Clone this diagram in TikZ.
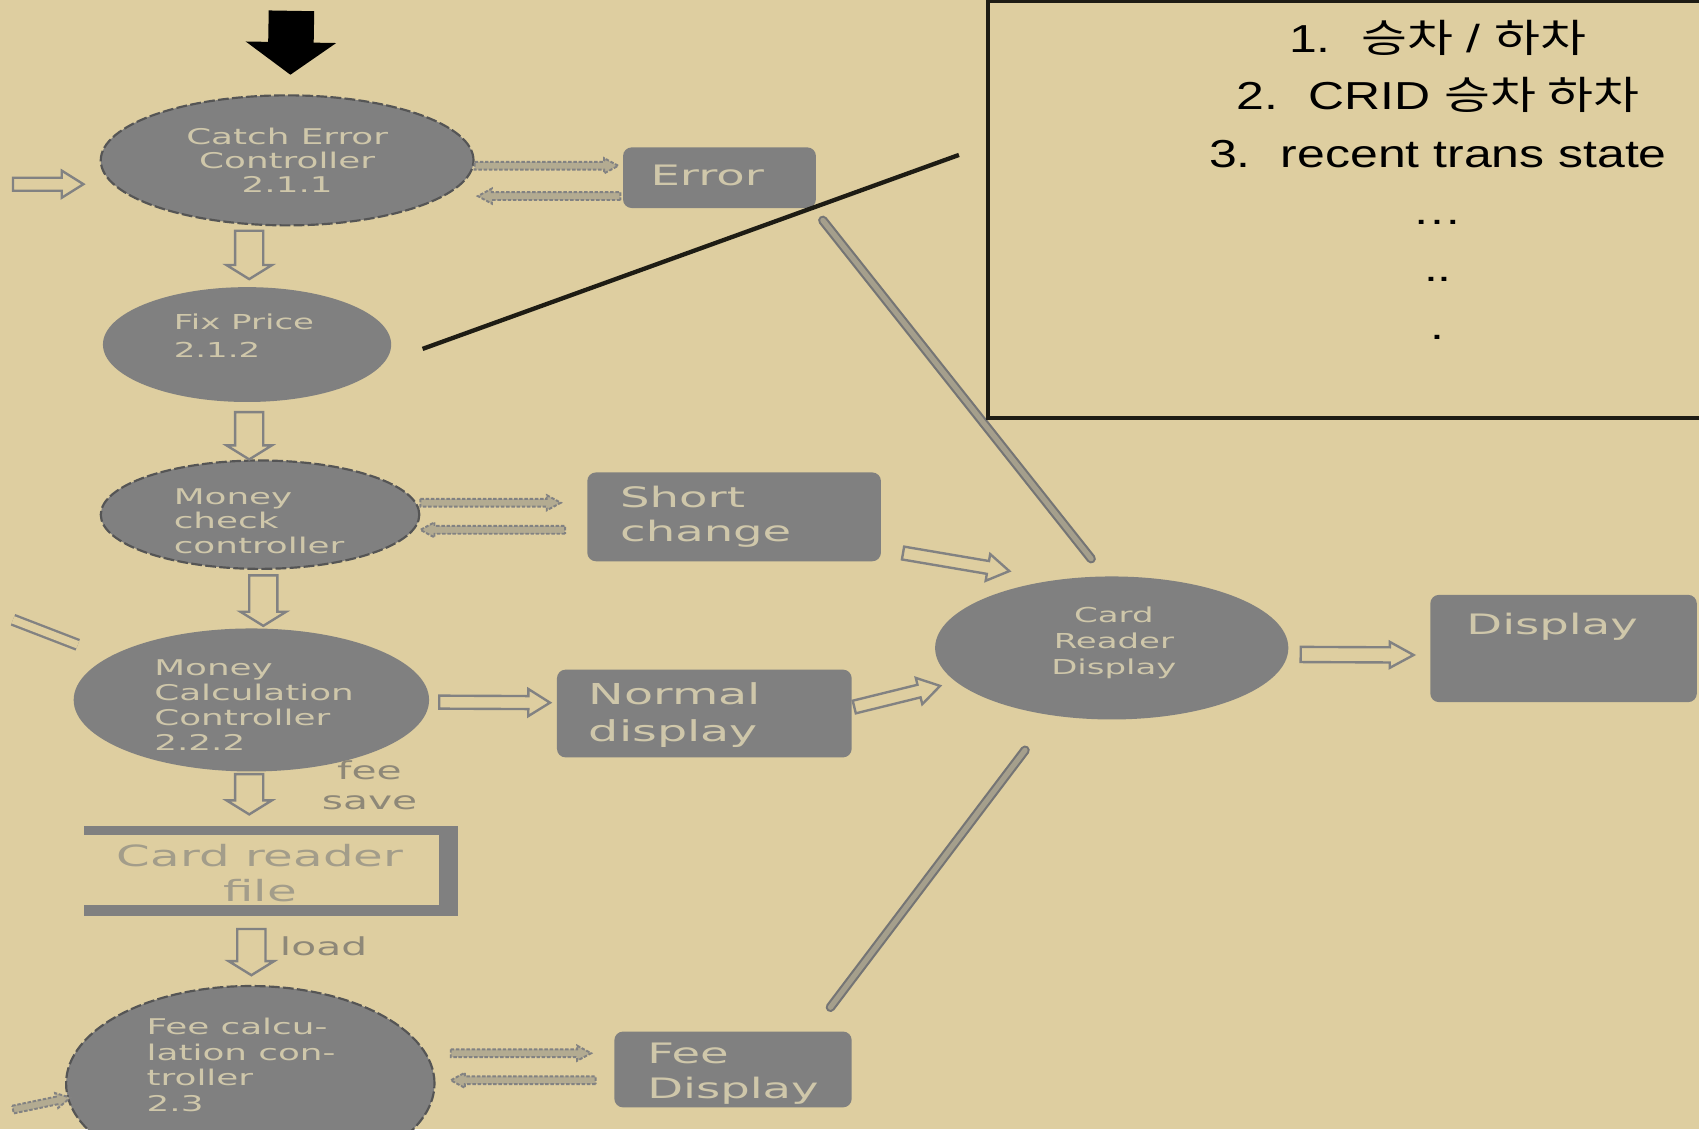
\documentclass[tikz,border=0pt]{standalone}
\usepackage{fontspec}
\setmainfont{DejaVu Sans}
\newfontfamily\labfont[FakeStretch=1.65]{DejaVu Sans}
\newfontfamily\notefont[FakeStretch=1.28]{Liberation Sans}
\newfontfamily\krfont[FakeStretch=1.28]{Noto Sans CJK KR}
\usetikzlibrary{arrows.meta,shapes.geometric,calc}
\definecolor{bg}{HTML}{DECEA0}
\definecolor{shapegray}{HTML}{808080}
\definecolor{labtext}{HTML}{CFC7AA}
\definecolor{linegray}{HTML}{828282}
\definecolor{outlinegray}{HTML}{555555}
\definecolor{softtext}{HTML}{8E8878}
\definecolor{filetext}{HTML}{A39D8A}
\definecolor{inkblack}{HTML}{1E1C14}
\begin{document}
\begin{tikzpicture}[x=0.5pt,y=-0.5pt,
  proc/.style={ellipse, fill=shapegray, inner sep=0pt},
  dproc/.style={proc, draw=outlinegray, line width=1pt, dash pattern=on 5pt off 1.5pt},
  rbox/.style={rectangle, rounded corners=4pt, fill=shapegray, inner sep=0pt},
  lab/.style={text=labtext, inner sep=0pt, align=left, font=\labfont\fontsize{10}{11.5}\selectfont},
  blab/.style={lab, font=\labfont\fontsize{13}{16}\selectfont},
  slab/.style={text=softtext, inner sep=0pt, align=left, font=\labfont\fontsize{11.4}{14}\selectfont},
  notetext/.style={text=black, inner sep=0pt, anchor=base, font=\notefont\fontsize{18}{22}\selectfont},
  barrow/.style n args={3}{draw=linegray, fill=bg, line width=1.1pt, line join=miter,
    to path={let \p1=(\tikztostart), \p2=(\tikztotarget), \n1={atan2(\y2-\y1,\x2-\x1)} in
      ($(\p1)+({\n1+90}:#1)$) -- ($(\p2)+({\n1+180}:#3)+({\n1+90}:#1)$)
      -- ($(\p2)+({\n1+180}:#3)+({\n1+90}:#2)$) -- (\p2)
      -- ($(\p2)+({\n1+180}:#3)+({\n1-90}:#2)$) -- ($(\p2)+({\n1+180}:#3)+({\n1-90}:#1)$)
      -- ($(\p1)+({\n1-90}:#1)$) -- cycle}},
  varrow/.style={barrow={6.5pt}{10.5pt}{6.5pt}},
  harrow/.style={barrow={3pt}{6.25pt}{10pt}},
  darrow/.style={barrow={1.8pt}{3.5pt}{6.5pt}, line width=0.9pt, fill=bg!55!gray, dash pattern=on 1.6pt off 0.8pt},
  hatchbar/.style={draw=linegray!90!black, line width=1pt, double=gray!60!bg, double distance=2.4pt, line cap=round},
  filebar/.style={fill=shapegray},
]
\useasboundingbox (0,0) rectangle (1568,1042);
\clip (0,0) rectangle (1568,1042);
\fill[bg] (0,0) rectangle (1568,1042);

% process ellipses
\node[dproc, minimum width=172pt, minimum height=60pt] (e1) at (265,148) {};
\node[proc, minimum width=133pt, minimum height=53pt] (e2) at (228,318) {};
\node[dproc, minimum width=147pt, minimum height=50pt] (e3) at (240,475) {};
\node[proc, minimum width=164pt, minimum height=66pt] (e4) at (232,646) {};
\node[dproc, minimum width=170pt, minimum height=90pt] (e5) at (231,1000) {};
\node[proc, minimum width=163pt, minimum height=66pt] (crd) at (1026,598) {};

% boxes
\node[rbox, minimum width=89pt, minimum height=28pt] (err) at (664,164) {};
\node[rbox, minimum width=135.5pt, minimum height=41pt] (short) at (677.5,477) {};
\node[rbox, minimum width=136pt, minimum height=40.5pt] (normal) at (650,658.5) {};
\node[rbox, minimum width=109.5pt, minimum height=35pt] (feed) at (676.5,987) {};
\node[rbox, minimum width=123pt, minimum height=49.5pt] (disp) at (1443,598.5) {};

% data store
\node[rectangle, inner sep=0pt, minimum width=172pt, minimum height=41pt] (crf) at (250,804) {};
\fill[filebar] (crf.north west) rectangle ($(crf.north east)+(0,8)$);
\fill[filebar] ($(crf.south west)+(0,-10)$) rectangle (crf.south east);
\fill[filebar] ($(crf.north east)+(-17,0)$) rectangle (crf.south east);

% labels
\node[lab, align=center, font=\labfont\fontsize{10}{11.25}\selectfont] (t1) at (265,148) {Catch Error\\Controller\\2.1.1};
\node[lab, anchor=west, font=\labfont\fontsize{9.5}{13}\selectfont] (t2) at (160,310) {Fix Price\\2.1.2};
\node[lab, anchor=west] (t3) at (160,481) {Money\\check\\controller};
\node[lab, anchor=west] (t4) at (142,651) {Money\\Calculation\\Controller\\2.2.2};
\node[lab, anchor=west, font=\labfont\fontsize{10}{11.8}\selectfont] (t5) at (135,983) {Fee calcu-\\lation con-\\troller\\2.3};
\node[lab, align=center, font=\labfont\fontsize{9.5}{12}\selectfont] (tcrd) at (1028,593) {Card\\Reader\\Display};
\node[blab, anchor=west] (terr) at (600,162) {Error};
\node[blab, anchor=west] (tshort) at (572,477) {Short\\change};
\node[blab, anchor=west, font=\labfont\fontsize{13.3}{17}\selectfont] (tnormal) at (543,660) {Normal\\display};
\node[blab, anchor=west] (tfee) at (597,991) {Fee\\Display};
\node[blab, anchor=west] (tdisp) at (1353,578) {Display};
\node[lab, text=filetext, align=center, font=\labfont\fontsize{13.5}{16}\selectfont] (tfile) at (240,806) {Card reader\\file};
\node[slab, align=center] (tsave) at (341,725) {fee\\save};
\node[slab, anchor=west] (tload) at (258,873) {load};

% black entry arrow
\coordinate (drop) at (269,10);
\draw[black, line width=21pt, -{Triangle[width=41pt,length=15pt]}] (drop) -- ($(e1.north)+(3,-18)$);

% left-edge fragments
\coordinate (in1) at (12,170);
\draw[harrow] (in1) to ($(e1.west)+(-15,22)$);
\coordinate (in2) at (12,572);
\draw[draw=linegray, line width=1.1pt, double=bg, double distance=3.5pt] (in2) -- ($(e4.north west)+(-44,-4)$);
\coordinate (in3) at (12,1024);
\draw[darrow] (in3) to ($(e5.west)+(5,13)$);

% vertical flow
\draw[varrow] ($(e1.south)+(-35,4)$) to ($(e1.south |- e2.north)+(-35,-7)$);
\draw[varrow] ($(e2.south)+(2,9)$) to ($(e2.south |- e3.north)+(2,0)$);
\draw[varrow] ($(e3.south)+(3,5)$) to ($(e3.south |- e4.north)+(3,-2)$);
\draw[varrow] ($(e4.south)+(-2,2)$) to ($(e4.south |- crf.north)+(-2,-11)$);
\draw[varrow] ($(crf.south)+(-18,12)$) to ($(crf.south |- e5.north)+(-18,-9)$);

% side flows
\draw[darrow] ($(e1.east)+(0,5)$) to ($(err.west)+(-4,-11)$);
\draw[darrow] ($(err.west)+(-2,17)$) to ($(e1.east)+(3,33)$);
\draw[darrow] ($(e3.east)+(0,-11)$) to ($(short.west)+(-24,-13)$);
\draw[darrow] ($(short.west)+(-20,12)$) to ($(e3.east)+(0,14)$);
\draw[harrow] ($(e4.east)+(9,2)$) to ($(normal.west)+(-6,-10)$);
\draw[darrow] ($(e5.east)+(14,-28)$) to ($(feed.west)+(-21,-15)$);
\draw[darrow] ($(feed.west)+(-17,10)$) to ($(e5.east)+(14,-3)$);

% into card reader display
\draw[harrow] ($(short.south east)+(20,-8)$) to ($(crd.north west)+(21,-24)$);
\draw[harrow] ($(normal.east)+(2,-6)$) to ($(crd.west)+(5,35)$);
\draw[hatchbar] ($(err.south east)+(6,11)$) -- ($(crd.north)+(-19,-16)$);
\draw[hatchbar] ($(feed.north east)+(-20,-22)$) -- ($(crd.south)+(-80,28)$);
\draw[barrow={3.5pt}{6pt}{11pt}] ($(crd.east)+(11,6)$) to ($(disp.west)+(-15,6)$);

% note
\node[draw=inkblack, line width=1.8pt, rectangle, inner sep=0pt, minimum width=344pt, minimum height=192.5pt] (note) at (1256,193.5) {};
\coordinate (lk1) at (390,322);
\coordinate (lk2) at (885,143);
\draw[inkblack, line width=2pt] (lk1) -- (lk2);
\node[notetext] (n1) at (1327,48) {1.\hspace{14pt}{\krfont 승차} / {\krfont 하차}};
\node[notetext] (n2) at (1327,101) {2.\hspace{14pt}CRID {\krfont 승차 하차}};
\node[notetext] (n3) at (1327,155) {3.\hspace{14pt}recent trans state};
\node[notetext] (n4) at (1327,207) {…};
\node[notetext] (n5) at (1327,260) {..};
\node[notetext] (n6) at (1327,313) {.};
\end{tikzpicture}
\end{document}
